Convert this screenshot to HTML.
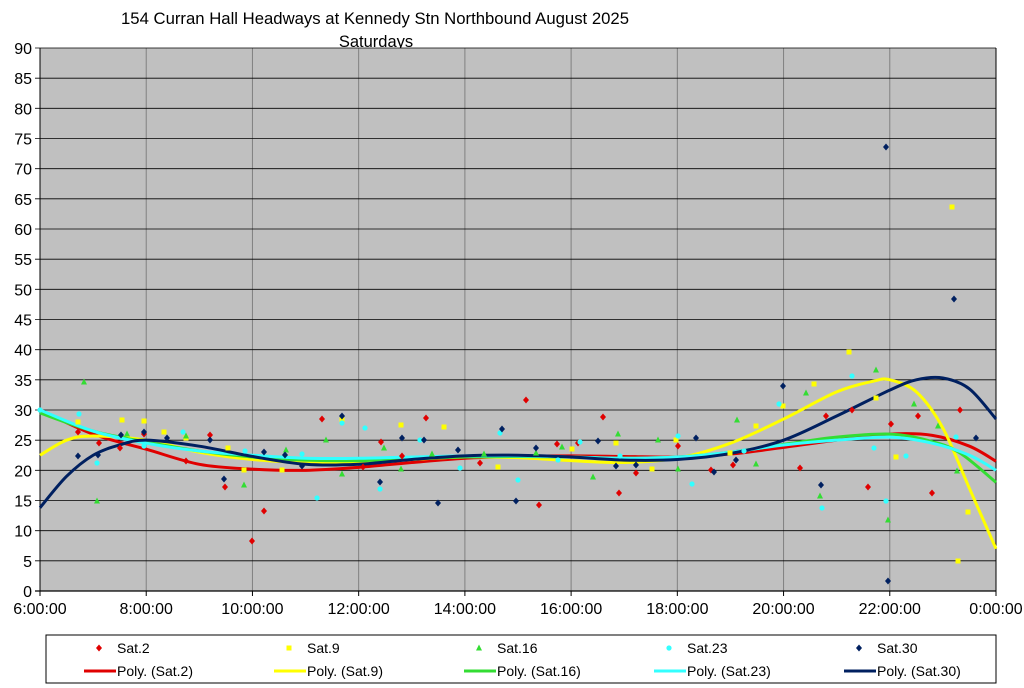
<!DOCTYPE html>
<html><head><meta charset="utf-8"><style>
body{margin:0;background:#fff;}
svg{display:block;font-family:"Liberation Sans",Arial,sans-serif;}
</style></head><body>
<svg id="s" width="1024" height="688" xmlns="http://www.w3.org/2000/svg">
<rect width="1024" height="688" fill="#fff"/>
<text x="375" y="24" font-size="16.5" text-anchor="middle" textLength="508" lengthAdjust="spacingAndGlyphs">154 Curran Hall Headways at Kennedy Stn Northbound August 2025</text>
<text x="376" y="47" font-size="16.5" text-anchor="middle">Saturdays</text>
<rect x="40" y="48" width="956" height="543" fill="#c0c0c0"/>
<g id="grid"></g>
<g id="curves" fill="none" stroke-width="3"></g>
<g id="pts"></g>
<rect x="46" y="635" width="950" height="48" fill="#fff" stroke="#000" stroke-width="1"/>
<g id="leg" font-size="13"></g>
</svg>
<script>
const NS="http://www.w3.org/2000/svg";
const L=40,R=996,T=48,B=591;
const X=h=>L+(h-6)*(R-L)/18, Y=v=>B-v*(B-T)/90;
function el(p,t,a,txt){const e=document.createElementNS(NS,t);for(const k in a)e.setAttribute(k,a[k]);if(txt!=null)e.textContent=txt;p.appendChild(e);return e;}
const g=document.getElementById('grid');
for(let i=1;i<9;i++){const x=X(6+2*i);el(g,'line',{x1:x,x2:x,y1:T,y2:B,stroke:'#808080','stroke-width':1});}
for(let v=0;v<=90;v+=5){const y=Y(v);el(g,'line',{x1:L-5,x2:R,y1:y,y2:y,stroke:'#000','stroke-width':v==0?1.2:0.8});
el(g,'text',{x:L-8,y:y+6,'font-size':16,'text-anchor':'end'},String(v));}
el(g,'line',{x1:L,x2:L,y1:T,y2:B,stroke:'#000','stroke-width':1});
el(g,'line',{x1:R,x2:R,y1:T,y2:B,stroke:'#000','stroke-width':1});
const labs=["6:00:00","8:00:00","10:00:00","12:00:00","14:00:00","16:00:00","18:00:00","20:00:00","22:00:00","0:00:00"];
labs.forEach((s,i)=>{const x=X(6+2*i);el(g,'line',{x1:x,x2:x,y1:B,y2:B+5,stroke:'#000'});el(g,'text',{x:x,y:B+23,'font-size':16,'text-anchor':'middle'},s);});
const C={r:'#e00000',y:'#ffff00',g:'#33dd33',c:'#33ffff',n:'#002060'};
const curves={
r:[[6,30],[7,26],[8,23.5],[9,21],[10,20.2],[11,20],[12,20.5],[13,21.3],[14,22],[15,22.3],[16,22.4],[17,22.3],[18,22.2],[19,22.7],[20,23.8],[21,25],[22,26],[22.8,25.8],[23.5,24],[24,21.5]],
y:[[6,22.5],[6.5,25],[7,25.7],[8,25],[9,23],[10,21.8],[11,21.3],[12,21.3],[13,21.8],[14,22.2],[15,22.1],[16,21.6],[17,21.3],[18,22],[19,24.5],[20,28.5],[21,33],[21.7,34.8],[22,35],[22.5,33],[23,27],[23.5,17],[24,7]],
g:[[6,29.5],[7,26.5],[8,24.7],[9,23.2],[10,22.2],[11,21.7],[12,21.6],[13,21.9],[14,22.2],[15,22.3],[16,22.2],[17,22],[18,22.2],[19,23],[20,24.3],[21,25.5],[22,26],[22.7,25],[23.3,23],[24,18]],
c:[[6,30],[7,26.5],[8,24.5],[9,23.2],[10,22.5],[11,22],[12,22],[13,22.2],[14,22.4],[15,22.4],[16,22.2],[17,22],[18,22.2],[19,23],[20,24.2],[21,25],[22,25.5],[22.8,24.5],[23.5,22.5],[24,20]],
n:[[6,13.8],[6.5,19],[7,22.5],[7.5,24.2],[8,25],[9,24],[10,22.3],[11,21],[12,21],[13,21.8],[14,22.4],[15,22.5],[16,22.2],[17,21.7],[18,21.8],[19,22.8],[20,25],[21,29],[22,33.3],[22.5,35],[23,35.3],[23.5,33.5],[24,28.5]]};
function smooth(p){const q=p.map(a=>[X(a[0]),Y(a[1])]);let d='M'+q[0];for(let i=0;i<q.length-1;i++){const p0=q[i-1]||q[i],p1=q[i],p2=q[i+1],p3=q[i+2]||p2;
d+=` C${p1[0]+(p2[0]-p0[0])/6},${p1[1]+(p2[1]-p0[1])/6} ${p2[0]-(p3[0]-p1[0])/6},${p2[1]-(p3[1]-p1[1])/6} ${p2[0]},${p2[1]}`;}return d;}
const cg=document.getElementById('curves');
['r','y','g','c','n'].forEach(k=>el(cg,'path',{d:smooth(curves[k]),stroke:C[k]}));
const pts={
r:[[78,432],[99,443],[120,448],[144,434],[186,461],[210,435],[225,487],[252,541],[264,511],[322,419],[363,467],[381,442],[402,456],[426,418],[480,463],[526,400],[539,505],[557,444],[578,443],[603,417],[619,493],[636,473],[678,446],[711,470],[733,465],[800,468],[826,416],[852,410],[868,487],[891,424],[918,416],[932,493],[960,410]],
y:[[78,422],[122,420],[144,421],[164,432],[186,438],[228,448],[244,470],[282,470],[342,420],[401,425],[444,427],[498,467],[572,449],[616,443],[652,469],[676,440],[730,453],[756,426],[783,406],[814,384],[849,352],[876,398],[896,457],[952,207],[958,561],[968,512]],
g:[[84,382],[97,501],[127,434],[186,436],[244,485],[286,450],[326,440],[342,474],[384,448],[401,469],[432,454],[484,454],[536,453],[562,447],[593,477],[618,434],[658,440],[678,469],[737,420],[756,464],[806,393],[820,496],[876,370],[888,520],[914,404],[938,426],[957,471]],
c:[[40,410],[79,414],[97,463],[144,446],[183,432],[245,451],[302,454],[317,498],[342,423],[365,428],[380,489],[420,440],[460,468],[500,433],[518,480],[558,460],[580,442],[620,456],[678,436],[692,484],[744,451],[779,404],[822,508],[852,376],[874,448],[886,501],[906,456],[956,437]],
n:[[78,456],[98,455],[121,435],[144,432],[167,438],[210,440],[224,479],[264,452],[285,455],[302,466],[342,416],[380,482],[402,438],[424,440],[438,503],[458,450],[502,429],[516,501],[536,448],[598,441],[616,466],[636,465],[696,438],[714,472],[736,460],[783,386],[821,485],[886,147],[888,581],[954,299],[976,438]]};
const pg=document.getElementById('pts');
function mark(p,k,x,y){const c=C[k];
if(k=='r'||k=='n')el(p,'polygon',{points:`${x},${y-3.5} ${x+3},${y} ${x},${y+3.5} ${x-3},${y}`,fill:c});
else if(k=='y')el(p,'rect',{x:x-2.5,y:y-2.5,width:5,height:5,fill:c});
else if(k=='g')el(p,'polygon',{points:`${x},${y-3.5} ${x+3},${y+2.5} ${x-3},${y+2.5}`,fill:c});
else el(p,'circle',{cx:x,cy:y,r:2.6,fill:c});}
for(const k in pts)pts[k].forEach(a=>mark(pg,k,a[0],a[1]));
const lg=document.getElementById('leg');
const names={r:'Sat.2',y:'Sat.9',g:'Sat.16',c:'Sat.23',n:'Sat.30'};
['r','y','g','c','n'].forEach((k,i)=>{const x0=84+i*190;
mark(lg,k,x0+15,648);el(lg,'text',{x:x0+33,y:653,'font-size':14},names[k]);
el(lg,'line',{x1:x0,x2:x0+32,y1:671,y2:671,stroke:C[k],'stroke-width':3});
el(lg,'text',{x:x0+33,y:676,'font-size':14},'Poly. ('+names[k]+')');});
</script>
</body></html>
